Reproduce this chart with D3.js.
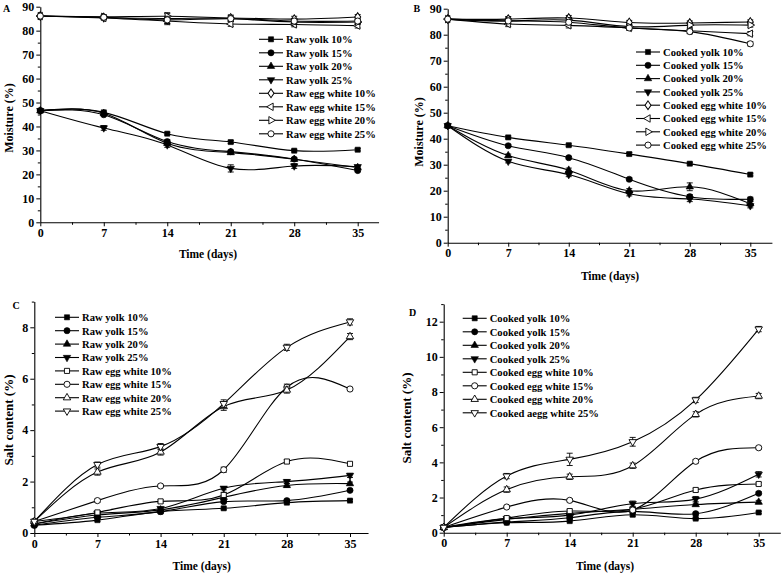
<!DOCTYPE html>
<html><head><meta charset="utf-8">
<script src="https://cdn.jsdelivr.net/npm/d3@7"></script>
<style>
body{margin:0;background:#fff}
svg{display:block}
text{font-family:"Liberation Serif","Times New Roman",serif;font-weight:bold;fill:#000}
</style></head>
<body><svg id="chart" width="784" height="573"></svg>
<script>
// ---------- data ----------
const days = [0, 7, 14, 21, 28, 35];

const legendA = ["Raw yolk 10%","Raw yolk 15%","Raw yolk 20%","Raw yolk 25%","Raw egg white 10%","Raw egg white 15%","Raw egg white 20%","Raw egg white 25%"];
const legendB = ["Cooked yolk 10%","Cooked yolk 15%","Cooked yolk 20%","Cooked yolk 25%","Cooked egg white 10%","Cooked egg white 15%","Cooked egg white 20%","Cooked egg white 25%"];
const legendC = ["Raw yolk 10%","Raw yolk 15%","Raw yolk 20%","Raw yolk 25%","Raw egg white 10%","Raw egg white 15%","Raw egg white 20%","Raw egg white 25%"];
const legendD = ["Cooked yolk 10%","Cooked yolk 15%","Cooked yolk 20%","Cooked yolk 25%","Cooked egg white 10%","Cooked egg white 15%","Cooked egg white 20%","Cooked aegg white 25%"];

// A: raw, moisture (%)
const rawYolk10M  = [46.6, 45.9, 37.0, 33.5, 29.9, 30.3];
const rawYolk15M  = [46.6, 44.9, 33.7, 29.5, 26.4, 21.6];
const rawYolk20M  = [46.6, 45.5, 33.0, 29.1, 26.3, 22.9];
const rawYolk25M  = [46.6, 39.4, 32.3, 22.5, 23.5, 23.2];
const rawWhite10M = [86.1, 85.5, 85.1, 85.3, 84.8, 85.7];
const rawWhite15M = [86.1, 85.3, 84.0, 82.8, 82.6, 82.1];
const rawWhite20M = [86.1, 85.8, 86.0, 85.1, 83.6, 83.6];
const rawWhite25M = [86.1, 85.6, 84.5, 85.0, 84.0, 84.0];

// B: cooked, moisture (%)
const ckYolk10M  = [45.0, 40.5, 37.5, 34.1, 30.4, 26.2];
const ckYolk15M  = [45.0, 37.3, 32.7, 24.4, 17.7, 16.7];
const ckYolk20M  = [45.0, 33.5, 27.9, 20.0, 21.5, 15.0];
const ckYolk25M  = [45.0, 31.3, 26.2, 18.8, 16.8, 14.2];
const ckWhite10M = [86.0, 86.0, 86.4, 84.7, 84.5, 84.9];
const ckWhite15M = [86.0, 84.1, 83.6, 82.6, 81.5, 80.4];
const ckWhite20M = [86.0, 85.3, 85.6, 83.1, 83.7, 83.7];
const ckWhite25M = [86.0, 85.3, 84.8, 82.6, 81.2, 76.5];

// C: raw, salt content (%)
const rawYolk10S  = [0.30, 0.50, 0.83, 0.96, 1.18, 1.26];
const rawYolk15S  = [0.30, 0.61, 0.83, 1.22, 1.26, 1.66];
const rawYolk20S  = [0.35, 0.70, 0.90, 1.39, 1.85, 1.92];
const rawYolk25S  = [0.35, 0.77, 0.95, 1.74, 2.00, 2.24];
const rawWhite10S = [0.45, 0.80, 1.23, 1.48, 2.78, 2.69];
const rawWhite15S = [0.45, 1.26, 1.83, 2.46, 5.67, 5.60];
const rawWhite20S = [0.45, 2.37, 3.15, 4.92, 5.56, 7.64];
const rawWhite25S = [0.45, 2.66, 3.36, 5.03, 7.22, 8.21];

// D: cooked, salt content (%)
const ckYolk10S  = [0.30, 0.57, 0.66, 1.02, 0.80, 1.15];
const ckYolk15S  = [0.30, 0.60, 0.85, 1.21, 1.08, 2.24];
const ckYolk20S  = [0.30, 0.76, 1.10, 1.33, 1.60, 1.74];
const ckYolk25S  = [0.30, 0.80, 1.00, 1.65, 1.91, 3.32];
const ckWhite10S = [0.30, 0.83, 1.23, 1.33, 2.43, 2.77];
const ckWhite15S = [0.30, 1.46, 1.84, 1.29, 4.06, 4.83];
const ckWhite20S = [0.30, 2.45, 3.18, 3.81, 6.73, 7.77];
const ckWhite25S = [0.30, 3.22, 4.17, 5.17, 7.55, 11.58];

// error bars (estimated half-widths)
const errA = [[0,0.5,0.5,0.6,0.5,0.5],[0,0.5,0.8,0.6,0.5,0.5],[0,0.5,0.8,0.6,0.5,0.5],[0,1.0,1.0,1.5,1.0,0.6],
              [0,0.8,2.0,1.2,1.2,1.0],[0,0.8,1.5,1.0,1.0,1.0],[0,0.8,1.5,1.0,1.0,1.0],[0,0.8,1.5,1.0,1.0,1.0]];
const errB = [[0,0.5,0.5,0.6,0.5,0.5],[0,0.5,0.5,0.6,0.8,0.8],[0,0.6,0.8,0.8,1.5,0.8],[0,0.6,0.8,0.8,1.0,0.8],
              [0,1.0,1.0,0.8,0.8,0.8],[0,1.0,1.0,0.8,0.8,0.8],[0,1.0,1.0,0.8,0.8,0.8],[0,1.0,1.0,0.8,0.8,0.8]];
const errC = [[0,0.05,0.05,0.05,0.05,0.04],[0,0.05,0.05,0.05,0.05,0.05],[0,0.05,0.06,0.08,0.08,0.06],[0,0.05,0.06,0.06,0.08,0.08],
              [0,0.06,0.06,0.1,0.08,0.06],[0,0.06,0.05,0.1,0.12,0.06],[0,0.12,0.12,0.15,0.12,0.12],[0,0.1,0.12,0.15,0.12,0.12]];
const errD = [[0,0.05,0.05,0.08,0.06,0.06],[0,0.05,0.06,0.08,0.08,0.08],[0,0.05,0.08,0.1,0.08,0.1],[0,0.05,0.08,0.15,0.15,0.15],
              [0,0.06,0.1,0.1,0.1,0.08],[0,0.06,0.08,0.1,0.1,0.08],[0,0.15,0.15,0.15,0.15,0.15],[0,0.15,0.35,0.25,0.15,0.15]];

// ---------- layout ----------
const panels = [
  {tag:"A", series:[rawYolk10M,rawYolk15M,rawYolk20M,rawYolk25M,rawWhite10M,rawWhite15M,rawWhite20M,rawWhite25M],
   err:errA, names:legendA, kind:"AB", ytitle:"Moisture (%)", ytSize:12,
   x0:40.3, x35:357.7, xmax:37.3, y0:222.3, ytop:6.7, ymax:90, yMajor:d3.range(0,91,10), yMinor:d3.range(5,90,10),
   tagX:3, tagY:12, ytX:13, ytY:118, xtX:208, xtY:258, legX:259, legY:39.3, legStep:13.5},
  {tag:"B", series:[ckYolk10M,ckYolk15M,ckYolk20M,ckYolk25M,ckWhite10M,ckWhite15M,ckWhite20M,ckWhite25M],
   err:errB, names:legendB, kind:"AB", ytitle:"Moisture (%)", ytSize:12,
   x0:447.7, x35:750.3, xmax:37.5, y0:242.7, ytop:8.7, ymax:90, yMajor:d3.range(0,91,10), yMinor:d3.range(5,90,10),
   tagX:413.5, tagY:12, ytX:423, ytY:132, xtX:610, xtY:280, legX:636, legY:52, legStep:13.3},
  {tag:"C", series:[rawYolk10S,rawYolk15S,rawYolk20S,rawYolk25S,rawWhite10S,rawWhite15S,rawWhite20S,rawWhite25S],
   err:errC, names:legendC, kind:"CD", ytitle:"Salt content (%)", ytSize:13,
   x0:34.3, x35:350, xmax:37.0, y0:533, ytop:301.6, ymax:9, yMajor:d3.range(0,9,2), yMinor:d3.range(1,10,2),
   tagX:12.5, tagY:308.5, ytX:13, ytY:420, xtX:201.7, xtY:570, legX:55, legY:317.3, legStep:13.4},
  {tag:"D", series:[ckYolk10S,ckYolk15S,ckYolk20S,ckYolk25S,ckWhite10S,ckWhite15S,ckWhite20S,ckWhite25S],
   err:errD, names:legendD, kind:"CD", ytitle:"Salt content (%)", ytSize:13,
   x0:443.7, x35:758.7, xmax:37.4, y0:532.7, ytop:304.1, ymax:13, yMajor:d3.range(0,13,2), yMinor:d3.range(1,14,2),
   tagX:409, tagY:316, ytX:411, ytY:418, xtX:605, xtY:570, legX:462.7, legY:318.3, legStep:13.5}
];

// marker definitions: [symbolType, rotation, filled]
const markersAB = [[d3.symbolSquare,0,true],[d3.symbolCircle,0,true],[d3.symbolTriangle,0,true],[d3.symbolTriangle,180,true],
                   [d3.symbolDiamond,0,false],[d3.symbolTriangle,-90,false],[d3.symbolTriangle,90,false],[d3.symbolCircle,0,false]];
const markersCD = [[d3.symbolSquare,0,true],[d3.symbolCircle,0,true],[d3.symbolTriangle,0,true],[d3.symbolTriangle,180,true],
                   [d3.symbolSquare,0,false],[d3.symbolCircle,0,false],[d3.symbolTriangle,0,false],[d3.symbolTriangle,180,false]];
const symSize = t => t===d3.symbolSquare ? 26 : t===d3.symbolCircle ? 30 : 24;

const svg = d3.select("#chart");

function drawMarker(g, mk, x, y) {
  const [type, rot, filled] = mk;
  const path = d3.symbol().type(type).size(symSize(type))();
  g.append("path").attr("d", path)
    .attr("transform", `translate(${x},${y}) rotate(${rot})` + (type===d3.symbolDiamond ? " scale(1.15,0.95)" : ""))
    .attr("fill", filled ? "#000" : "#fff").attr("stroke", "#000").attr("stroke-width", filled ? 0.6 : 0.9);
}

panels.forEach(p => {
  const g = svg.append("g");
  const x = d3.scaleLinear().domain([0, 35]).range([p.x0, p.x35]);
  const xEnd = x(p.xmax);
  const y = d3.scaleLinear().domain([0, p.ymax]).range([p.y0, p.ytop]);
  const markers = p.kind === "AB" ? markersAB : markersCD;

  // axes
  g.append("g").attr("transform", `translate(0,${p.y0})`)
    .call(d3.axisBottom(d3.scaleLinear().domain([0, p.xmax]).range([p.x0, xEnd])).tickValues(days).tickSize(4).tickSizeOuter(0).tickPadding(2).tickFormat(d3.format("d")));
  const xm = g.append("g").attr("transform", `translate(0,${p.y0})`)
    .call(d3.axisBottom(x).tickValues([3.5,10.5,17.5,24.5,31.5]).tickSize(2.5).tickSizeOuter(0).tickFormat(""));
  xm.select(".domain").remove();
  g.append("g").attr("transform", `translate(${p.x0},0)`)
    .call(d3.axisLeft(y).tickValues(p.yMajor).tickSize(4).tickSizeOuter(0).tickPadding(2).tickFormat(d3.format("d")));
  const ym = g.append("g").attr("transform", `translate(${p.x0},0)`)
    .call(d3.axisLeft(y).tickValues(p.yMinor).tickSize(2.5).tickSizeOuter(0).tickFormat(""));
  ym.select(".domain").remove();
  g.selectAll(".domain").attr("stroke", "#000").attr("stroke-width", 1.1);
  g.selectAll(".tick line").attr("stroke", "#000").attr("stroke-width", 1);
  g.selectAll(".tick text").attr("font-size", 12).attr("font-family", "Liberation Serif").attr("font-weight", "bold").attr("fill", "#000");

  // titles
  g.append("text").attr("x", p.tagX).attr("y", p.tagY).attr("font-size", 10).text(p.tag);
  g.append("text").attr("x", p.xtX).attr("y", p.xtY).attr("text-anchor", "middle").attr("font-size", 11.5).text("Time (days)");
  g.append("text").attr("transform", `translate(${p.ytX},${p.ytY}) rotate(-90)`).attr("text-anchor", "middle").attr("font-size", p.ytSize).text(p.ytitle);

  // lines
  const line = d3.line().x((d, i) => x(days[i])).y(d => y(d)).curve(d3.curveNatural);
  p.series.forEach(s => {
    g.append("path").attr("d", line(s)).attr("fill", "none").attr("stroke", "#000").attr("stroke-width", 1.1);
  });
  // error bars + markers
  p.series.forEach((s, si) => {
    s.forEach((v, i) => {
      const e = p.err[si][i];
      if (e > 0) {
        const cx = x(days[i]), yt = y(v + e), yb = y(v - e);
        g.append("line").attr("x1", cx).attr("x2", cx).attr("y1", yt).attr("y2", yb).attr("stroke", "#000").attr("stroke-width", 0.9);
        g.append("line").attr("x1", cx - 3).attr("x2", cx + 3).attr("y1", yt).attr("y2", yt).attr("stroke", "#000").attr("stroke-width", 0.9);
        g.append("line").attr("x1", cx - 3).attr("x2", cx + 3).attr("y1", yb).attr("y2", yb).attr("stroke", "#000").attr("stroke-width", 0.9);
      }
      drawMarker(g, markers[si], x(days[i]), y(v));
    });
  });

  // legend
  p.names.forEach((nm, i) => {
    const ly = p.legY + i * p.legStep;
    g.append("line").attr("x1", p.legX).attr("x2", p.legX + 24).attr("y1", ly).attr("y2", ly).attr("stroke", "#000").attr("stroke-width", 1.1);
    drawMarker(g, markers[i], p.legX + 12, ly);
    g.append("text").attr("x", p.legX + 27).attr("y", ly + 3.8).attr("font-size", 10.6).text(nm);
  });
});
</script>
</body></html>
